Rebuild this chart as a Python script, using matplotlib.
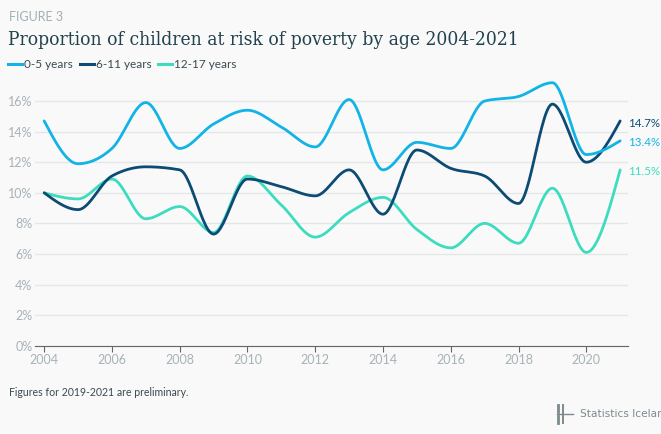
import numpy as np
import matplotlib
matplotlib.use("Agg")
import matplotlib.pyplot as plt

years = list(range(2004, 2022))
age_0_5 = [14.7, 11.9, 12.9, 15.9, 12.9, 14.5, 15.4, 14.3, 13.0, 16.1,
           11.5, 13.3, 12.9, 16.0, 16.3, 17.2, 12.5, 13.4]
age_6_11 = [10.0, 8.9, 11.1, 11.7, 11.5, 7.3, 10.9, 10.4, 9.8, 11.5,
            8.6, 12.8, 11.6, 11.1, 9.3, 15.8, 12.0, 14.7]
age_12_17 = [10.0, 9.6, 10.9, 8.3, 9.1, 7.4, 11.1, 9.2, 7.1, 8.7,
             9.7, 7.6, 6.4, 8.0, 6.7, 10.3, 6.1, 11.5]
series_names = ["0-5 years", "6-11 years", "12-17 years"]
colors = ["#12b3e6", "#0c4b73", "#3ddcbf"]

BG = "#f9f9f9"
TICK = "#a7b2b8"


def monotone_x(x, y, n=30):
    # same shape as d3.curveMonotoneX
    x = np.asarray(x, float)
    y = np.asarray(y, float)
    h = np.diff(x)
    s = np.diff(y) / h
    m = np.zeros(len(x))
    for i in range(1, len(x) - 1):
        p = (s[i - 1] * h[i] + s[i] * h[i - 1]) / (h[i - 1] + h[i])
        m[i] = (np.sign(s[i - 1]) + np.sign(s[i])) * min(abs(s[i - 1]), abs(s[i]), 0.5 * abs(p))
    m[0] = (3 * s[0] - m[1]) / 2
    m[-1] = (3 * s[-1] - m[-2]) / 2
    xs, ys = [], []
    t = np.linspace(0, 1, n)
    for i in range(len(x) - 1):
        dx = h[i] / 3
        p0 = np.array([x[i], y[i]])
        p1 = np.array([x[i] + dx, y[i] + dx * m[i]])
        p2 = np.array([x[i + 1] - dx, y[i + 1] - dx * m[i + 1]])
        p3 = np.array([x[i + 1], y[i + 1]])
        b = ((1 - t) ** 3)[:, None] * p0 + (3 * (1 - t) ** 2 * t)[:, None] * p1 \
            + (3 * (1 - t) * t ** 2)[:, None] * p2 + (t ** 3)[:, None] * p3
        xs.extend(b[:, 0])
        ys.extend(b[:, 1])
    return xs, ys


def px(x, y):
    # pixel position -> figure fraction
    return x / 661, 1 - y / 434


fig = plt.figure(figsize=(6.61, 4.34), dpi=100, facecolor=BG)
ax = fig.add_axes([0.053, 0.2035, 0.897, 0.62], facecolor=BG)

for vals, c in zip([age_12_17, age_6_11, age_0_5], [colors[2], colors[1], colors[0]]):
    sx, sy = monotone_x(years, vals)
    ax.plot(sx, sy, color=c, lw=2.0, solid_capstyle="round", zorder=3)

ax.set_xlim(2003.73, 2021.23)
ax.set_ylim(0, 17.6)
ax.set_yticks(range(0, 17, 2))
ax.set_yticklabels([f"{v}%" for v in range(0, 17, 2)])
ax.set_xticks(range(2004, 2021, 2))
ax.grid(axis="y", color="#e4e6e7", lw=1)
ax.set_axisbelow(True)
for sp in ["top", "right", "left"]:
    ax.spines[sp].set_visible(False)
ax.spines["bottom"].set_color("#666666")
ax.tick_params(axis="y", length=0, labelsize=9, labelcolor=TICK, pad=2)
ax.tick_params(axis="x", length=4, color="#666666", labelsize=9, labelcolor=TICK, pad=2)
for lab in ax.get_xticklabels() + ax.get_yticklabels():
    lab.set_fontfamily("Lato")

# end labels
for vals, c in zip([age_0_5, age_6_11, age_12_17], colors):
    ax.annotate(f"{vals[-1]}%", (years[-1], vals[-1]), xytext=(6, -1.5),
                textcoords="offset points", va="center", color=c, fontsize=8.3, family="Lato",
                annotation_clip=False)

# header
fig.text(*px(9, 17), "FIGURE 3", fontsize=9, color="#a4aeb3", family="Lato", va="center")
fig.text(*px(8, 40), "Proportion of children at risk of poverty by age 2004-2021",
         fontsize=13.8, color="#22434d", family="DejaVu Serif", fontstretch="condensed", va="center")

# legend
for name, c, lx in zip(series_names, colors, [8, 80, 158]):
    fig.add_artist(plt.Line2D([lx / 661, (lx + 14) / 661], [1 - 64 / 434] * 2, color=c, lw=2.2,
                              transform=fig.transFigure))
    fig.text(*px(lx + 16, 64), name, fontsize=8.5, color="#3a4a50", family="Lato", va="center")

# footer
fig.text(*px(9, 393), "Figures for 2019-2021 are preliminary.", fontsize=7.6,
         color="#3a4a50", family="Lato", va="center")
logo = "#7c8a8f"
fig.add_artist(plt.Line2D([558 / 661] * 2, [1 - 405 / 434, 1 - 412 / 434], color=logo, lw=2,
                          transform=fig.transFigure))
fig.add_artist(plt.Line2D([558 / 661] * 2, [1 - 416 / 434, 1 - 423 / 434], color=logo, lw=2,
                          transform=fig.transFigure))
fig.add_artist(plt.Line2D([563 / 661] * 2, [1 - 405 / 434, 1 - 423 / 434], color=logo, lw=1.4,
                          transform=fig.transFigure))
fig.add_artist(plt.Line2D([557 / 661, 573 / 661], [1 - 414 / 434] * 2, color=logo, lw=1,
                          transform=fig.transFigure))
fig.text(*px(580, 414), "Statistics Iceland", fontsize=7.6, color=logo,
         family="Liberation Sans Narrow", va="center")

fig.savefig("out.png", dpi=100, facecolor=BG)
